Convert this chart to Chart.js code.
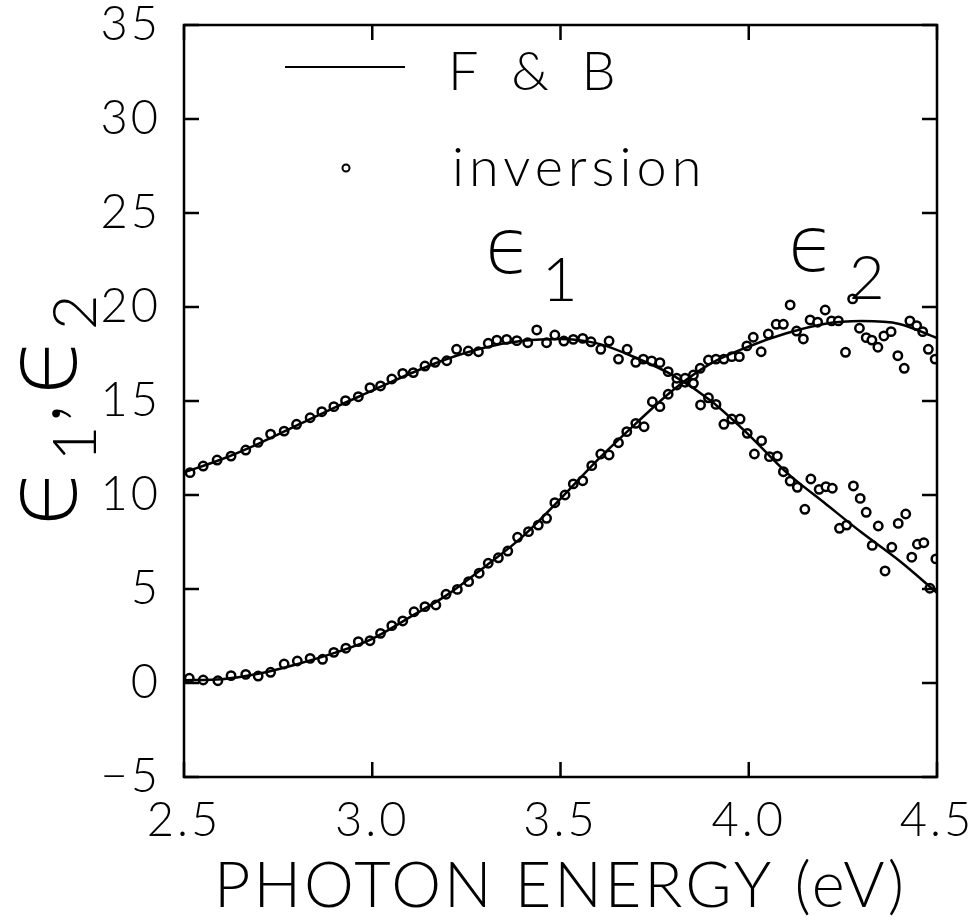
<!DOCTYPE html>
<html>
<head>
<meta charset="utf-8">
<script src="https://cdn.jsdelivr.net/npm/chart.js@4/dist/chart.umd.min.js"></script>
<style>
html, body { margin: 0; padding: 0; background: #fff; }
</style>
</head>
<body>
<canvas id="eps" width="974" height="920"></canvas>
<script>
// inversion points, eps1
var e1X = [2.516,2.551,2.588,2.625,2.664,2.697,2.730,2.766,2.799,2.835,2.866,2.898,2.929,2.963,2.994,3.022,3.052,3.081,3.109,3.140,
           3.167,3.198,3.224,3.255,3.282,3.308,3.331,3.357,3.384,3.413,3.437,3.463,3.485,3.509,3.534,3.559,3.581,3.607,3.629,3.654,
           3.677,3.700,3.720,3.742,3.764,3.786,3.809,3.831,3.853,3.872,3.893,3.913,3.934,3.955,3.977,3.996,4.015,4.034,4.055,4.076,
           4.092,4.110,4.129,4.149,4.165,4.187,4.205,4.222,4.241,4.260,4.278,4.296,4.312,4.328,4.344,4.362,4.380,4.397,4.417,4.433,
           4.448,4.465,4.481,4.497];
var e1Y = [11.19,11.54,11.86,12.07,12.39,12.80,13.24,13.40,13.76,14.11,14.43,14.70,15.02,15.23,15.71,15.80,16.17,16.47,16.51,16.86,
           17.06,17.14,17.75,17.66,17.62,18.07,18.24,18.28,18.21,18.10,18.78,18.10,18.51,18.19,18.28,18.33,18.15,17.75,18.19,17.23,
           17.75,17.06,17.23,17.13,17.04,16.56,16.21,16.21,15.94,14.79,15.17,14.82,13.76,14.04,14.04,13.28,12.18,12.89,12.04,12.07,
           11.24,10.74,10.41,9.24,10.85,10.30,10.44,10.36,8.23,8.40,10.48,9.82,9.08,7.32,8.35,5.96,7.22,8.49,8.99,6.69,
           7.38,7.46,5.04,6.60];

// inversion points, eps2
var e2X = [2.514,2.551,2.590,2.625,2.664,2.697,2.730,2.766,2.801,2.835,2.868,2.898,2.930,2.963,2.994,3.022,3.052,3.081,3.111,3.140,
           3.169,3.196,3.226,3.256,3.284,3.308,3.335,3.360,3.386,3.415,3.441,3.463,3.485,3.512,3.534,3.559,3.583,3.607,3.629,3.654,
           3.676,3.700,3.722,3.744,3.764,3.786,3.809,3.831,3.853,3.871,3.893,3.913,3.934,3.955,3.975,3.995,4.012,4.033,4.052,4.073,
           4.092,4.110,4.127,4.145,4.163,4.183,4.203,4.220,4.238,4.257,4.276,4.294,4.312,4.327,4.343,4.359,4.378,4.396,4.413,4.428,
           4.446,4.462,4.477,4.495];
var e2Y = [0.25,0.16,0.12,0.39,0.46,0.37,0.57,1.01,1.17,1.31,1.26,1.63,1.85,2.20,2.25,2.64,3.05,3.30,3.79,4.06,
           4.15,4.72,4.98,5.39,5.84,6.37,6.66,7.02,7.75,8.05,8.40,8.76,9.59,10.00,10.59,10.76,11.56,12.18,12.13,12.78,
           13.37,13.81,13.63,14.96,14.70,15.36,15.85,16.00,16.38,16.74,17.18,17.23,17.23,17.36,17.36,17.93,18.39,17.62,18.56,19.08,
           19.08,20.11,18.72,18.30,19.31,19.19,19.84,19.26,19.26,17.59,20.43,18.87,18.37,18.24,17.86,18.46,18.69,17.41,16.74,19.26,
           19.01,18.69,17.75,17.23];

// F & B model curves
var fbX  = [2.5,2.6,2.7,2.8,2.9,3.0,3.1,3.2,3.3,3.4,3.5,3.6,3.7,3.8,3.9,4.0,4.1,4.2,4.3,4.4,4.5];
var fbE1 = [11.2,11.9,12.75,13.7,14.65,15.55,16.45,17.25,17.85,18.2,18.3,18.05,17.3,16.35,15.0,13.2,11.2,9.6,8.0,6.5,4.8];
var fbE2 = [0.15,0.2,0.5,1.0,1.6,2.35,3.5,4.7,6.2,7.8,9.8,11.9,13.8,15.6,17.0,17.9,18.6,19.1,19.25,19.1,18.35];

var xTicks = [2.5, 3.0, 3.5, 4.0, 4.5];
var yTicks = [-5, 0, 5, 10, 15, 20, 25, 30, 35];

function pts(xs, ys) {
    return xs.map(function (x, i) { return {x: x, y: ys[i]}; });
}

var SANS = 'Lato, "DejaVu Sans", sans-serif';
var EPS = '"DejaVu Sans", sans-serif';

// epsilon with a subscript, drawn at baseline (x, y) in current frame
function epsLabel(ctx, x, y, sub, bigSize, subSize, subDx, subDy) {
    ctx.font = '300 ' + bigSize + 'px ' + EPS;
    ctx.fillText('\u03F5', x, y);
    var w = ctx.measureText('\u03F5').width;
    ctx.font = '300 ' + subSize + 'px ' + SANS;
    ctx.fillText(sub, x + w + subDx, y + subDy);
    return w + subDx + ctx.measureText(sub).width;
}

var extras = {
    id: 'extras',
    beforeDraw: function (chart) {
        chart.ctx.letterSpacing = '3px';
    },
    beforeDatasetsDraw: function (chart) {
        chart.ctx.letterSpacing = '0px';
    },
    afterDraw: function (chart) {
        var ctx = chart.ctx;
        var a = chart.chartArea;
        var xs = chart.scales.x, ys = chart.scales.y;
        ctx.save();
        ctx.strokeStyle = '#000';
        ctx.fillStyle = '#000';
        ctx.lineWidth = 2.5;
        // frame
        ctx.strokeRect(a.left, a.top, a.right - a.left, a.bottom - a.top);
        // inward ticks
        var tl = 15;
        ctx.beginPath();
        xTicks.forEach(function (v) {
            var p = xs.getPixelForValue(v);
            ctx.moveTo(p, a.bottom); ctx.lineTo(p, a.bottom - tl);
            ctx.moveTo(p, a.top); ctx.lineTo(p, a.top + tl);
        });
        yTicks.forEach(function (v) {
            var p = ys.getPixelForValue(v);
            ctx.moveTo(a.left, p); ctx.lineTo(a.left + tl, p);
            ctx.moveTo(a.right, p); ctx.lineTo(a.right - tl, p);
        });
        ctx.stroke();

        // legend
        var ds = chart.data.datasets;
        ctx.textBaseline = 'alphabetic';
        ctx.textAlign = 'left';
        ctx.lineWidth = 2;
        ctx.beginPath();
        ctx.moveTo(285, 67); ctx.lineTo(405, 67);
        ctx.stroke();
        ctx.font = '300 54px ' + SANS;
        ctx.letterSpacing = '9px';
        ctx.fillText(ds[0].label, 448, 90);
        ctx.letterSpacing = '5px';
        ctx.fillText(ds[2].label, 452, 186);
        ctx.letterSpacing = '0px';
        ctx.beginPath();
        ctx.arc(346, 168, 3.5, 0, Math.PI * 2);
        ctx.fillStyle = '#fff';
        ctx.fill();
        ctx.stroke();
        ctx.fillStyle = '#000';

        // curve labels
        epsLabel(ctx, 485, 273, '1', 76, 62, 10, 28);
        epsLabel(ctx, 788, 271, '2', 76, 62, 14, 28);

        // y axis title, rotated
        ctx.translate(76, 527);
        ctx.rotate(-Math.PI / 2);
        var w = epsLabel(ctx, 0, 0, '1', 100, 62, 4, 20);
        ctx.font = '300 90px ' + SANS;
        ctx.fillText(',', w + 2, -16);
        var wc = ctx.measureText(',').width;
        epsLabel(ctx, w + wc + 10, 0, '2', 100, 62, 4, 20);
        ctx.restore();
    }
};

var ctx = document.getElementById('eps').getContext('2d');
var chart = new Chart(ctx, {
    type: 'scatter',
    data: {
        datasets: [{
            label: 'F & B',
            data: pts(fbX, fbE1),
            showLine: true,
            borderColor: '#000',
            borderWidth: 2.5,
            pointRadius: 0,
            cubicInterpolationMode: 'monotone'
        }, {
            label: 'F & B eps2',
            data: pts(fbX, fbE2),
            showLine: true,
            borderColor: '#000',
            borderWidth: 2.5,
            pointRadius: 0,
            cubicInterpolationMode: 'monotone'
        }, {
            label: 'inversion',
            data: pts(e1X, e1Y),
            pointStyle: 'circle',
            pointRadius: 4.2,
            borderWidth: 2.5,
            borderColor: '#000',
            backgroundColor: '#fff'
        }, {
            label: 'inversion eps2',
            data: pts(e2X, e2Y),
            pointStyle: 'circle',
            pointRadius: 4.2,
            borderWidth: 2.5,
            borderColor: '#000',
            backgroundColor: '#fff'
        }]
    },
    options: {
        responsive: false,
        animation: false,
        devicePixelRatio: 1,
        layout: { padding: { top: 25, right: 37, left: 0, bottom: 0 } },
        plugins: {
            legend: { display: false },
            tooltip: { enabled: false }
        },
        scales: {
            x: {
                type: 'linear',
                min: 2.5,
                max: 4.5,
                afterFit: function (s) {
                    s.height = 143;
                    s.paddingLeft = 0;
                    s.paddingRight = 0;
                },
                afterBuildTicks: function (s) { s.ticks = xTicks.map(function (v) { return {value: v}; }); },
                ticks: {
                    padding: 20,
                    color: '#000',
                    maxRotation: 0,
                    autoSkip: false,
                    font: { family: SANS, size: 47, weight: 300, lineHeight: 1 },
                    callback: function (v) { return v.toFixed(1); }
                },
                title: {
                    display: true,
                    text: 'PHOTON ENERGY (eV)',
                    color: '#000',
                    font: { family: SANS, size: 63, weight: 300, lineHeight: 1 },
                    padding: { top: 0, bottom: 2 }
                },
                grid: { display: false, drawTicks: false },
                border: { display: false }
            },
            y: {
                type: 'linear',
                min: -5,
                max: 35,
                afterFit: function (s) {
                    s.width = 184;
                    s.paddingTop = 0;
                    s.paddingBottom = 0;
                },
                afterBuildTicks: function (s) { s.ticks = yTicks.map(function (v) { return {value: v}; }); },
                ticks: {
                    padding: 23,
                    color: '#000',
                    font: { family: SANS, size: 47, weight: 300, lineHeight: 1 },
                    callback: function (v) { return v < 0 ? '\u2212' + (-v) : String(v); }
                },
                grid: { display: false, drawTicks: false },
                border: { display: false }
            }
        }
    },
    plugins: [extras]
});
</script>
</body>
</html>
